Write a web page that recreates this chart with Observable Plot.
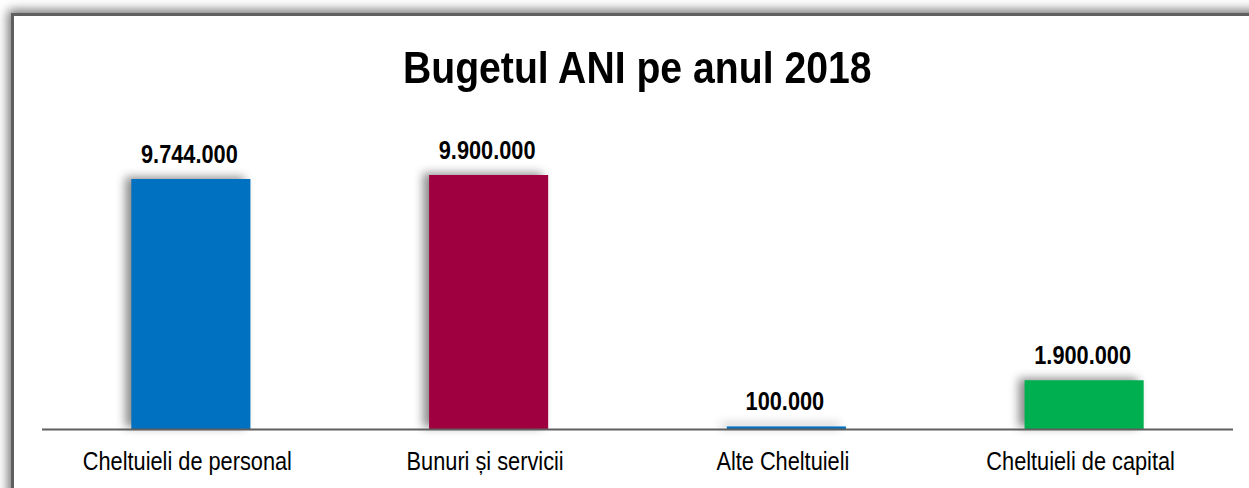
<!DOCTYPE html>
<html>
<head>
<meta charset="utf-8">
<script src="https://cdn.jsdelivr.net/npm/d3@7"></script>
<script src="https://cdn.jsdelivr.net/npm/@observablehq/plot@0.6"></script>
<style>
  html, body { margin: 0; padding: 0; background: #fff; overflow: hidden; width: 1249px; height: 488px; }
  #frame {
    position: absolute; left: 11px; top: 13px; width: 1400px; height: 600px;
    border-left: 3px solid #5f5f5f; border-top: 3px solid #5f5f5f;
    box-shadow: -3px -3px 10px rgba(0,0,0,0.55);
    background: #fff;
  }
  #title {
    position: absolute; left: 0; top: 38px; width: 1274px; text-align: center;
    font-family: "Liberation Sans", Arial, sans-serif;
    font-weight: bold; font-size: 44px; line-height: 60px; color: #000;
  }
  #title span { display: inline-block; transform: scaleX(0.89); }
  #chart { position: absolute; left: 0; top: 100px; }
  g[aria-label="bar"] rect { filter: drop-shadow(-6px -2px 5px rgba(0,0,0,0.45)); }
</style>
</head>
<body>
<div id="frame"></div>
<div id="title"><span>Bugetul ANI pe anul 2018</span></div>
<div id="chart"></div>
<script>
const categories = ["Cheltuieli de personal", "Bunuri și servicii", "Alte Cheltuieli", "Cheltuieli de capital"];
const values = [9744000, 9900000, 100000, 1900000];
const valueLabels = ["9.744.000", "9.900.000", "100.000", "1.900.000"];
const colors = ["#0070C0", "#9E0040", "#0070C0", "#00B050"];

const data = categories.map((c, i) => ({cat: c, value: values[i], label: valueLabels[i], color: colors[i]}));
const font = '"Liberation Sans", Arial, sans-serif';

const plot = Plot.plot({
  width: 1249,
  height: 388,
  marginLeft: 42,
  marginRight: 16,
  marginTop: 75,
  marginBottom: 59,
  style: {fontFamily: font, fontSize: "25px", color: "#000", background: "transparent", overflow: "visible"},
  x: {domain: categories, paddingInner: 0.6, paddingOuter: 0.3, round: false, label: null},
  y: {domain: [0, 9900000], axis: null},
  marks: [
    Plot.barY(data, {x: "cat", y: "value", fill: "color"}),
    Plot.ruleY([0], {stroke: "#5f5f5f", strokeWidth: 2}),
    Plot.axisX({tickSize: 0, tickPadding: 23, label: null, fontSize: 25, dx: -4}),
    Plot.text(data, {x: "cat", y: "value", text: "label", lineAnchor: "bottom", dy: -17, dx: -2, fontWeight: "bold", fontSize: 25, fill: "#000"})
  ]
});
document.getElementById("chart").appendChild(plot);

// condense text horizontally (narrow font look)
const condense = 0.87;
plot.querySelectorAll("text").forEach(t => {
  const b = t.getBBox();
  const cx = b.x + b.width / 2;
  const tr = t.getAttribute("transform") || "";
  t.setAttribute("transform", `${tr} translate(${cx},0) scale(${condense},1) translate(${-cx},0)`.trim());
});
</script>
</body>
</html>
